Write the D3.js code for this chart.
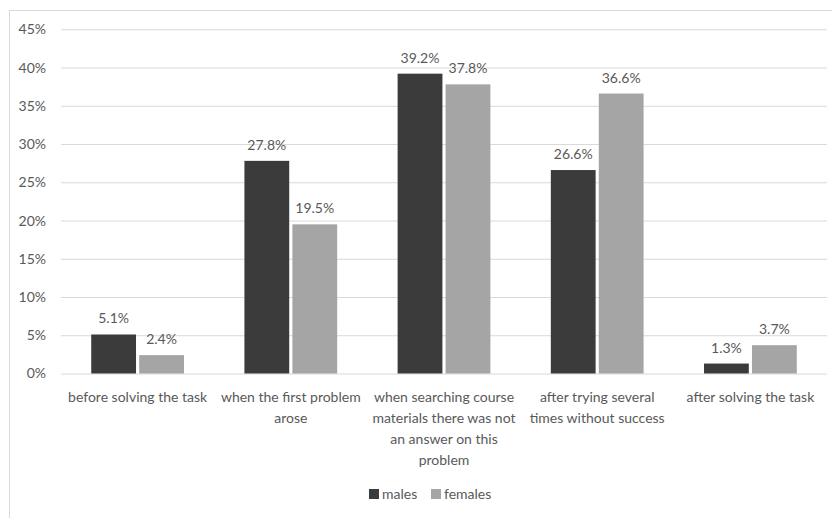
<!DOCTYPE html>
<html>
<head>
<meta charset="utf-8">
<script src="https://cdn.jsdelivr.net/npm/d3@7"></script>
<style>
  html, body { margin: 0; padding: 0; background: #fff; }
  svg { display: block; }
  text { font-family: Lato, "Open Sans", sans-serif; fill: #595959; }
</style>
</head>
<body>
<svg id="chart" width="832" height="518"></svg>
<script>
// Moment at which students asked for help, by gender (share of respondents, %)
const categories = [
  "before solving the task",
  "when the first problem\narose",
  "when searching course\nmaterials there was not\nan answer on this\nproblem",
  "after trying several\ntimes without success",
  "after solving the task"
];
const seriesNames = ["males", "females"];
const males = [5.1, 27.8, 39.2, 26.6, 1.3];
const females = [2.4, 19.5, 37.8, 36.6, 3.7];
const yTicks = [0, 5, 10, 15, 20, 25, 30, 35, 40, 45];
const colors = ["#3b3b3b", "#a5a5a5"];

const svg = d3.select("#chart");
const W = 832, H = 518;
const FS = 14;

// chart frame
svg.append("rect")
  .attr("x", 9.5).attr("y", 10.5)
  .attr("width", W).attr("height", H)
  .attr("fill", "none").attr("stroke", "#d9d9d9").attr("stroke-width", 1);

const plot = { left: 61, right: 827, top: 29.3, bottom: 373.5 };

const x0 = d3.scaleBand().domain(d3.range(categories.length))
  .range([plot.left, plot.right]).paddingInner(0).paddingOuter(0);
const x1 = d3.scaleBand().domain(seriesNames)
  .range([0, x0.bandwidth()]).paddingInner(0.066).paddingOuter(0.63);
const y = d3.scaleLinear().domain([0, 45]).range([plot.bottom, plot.top]);

// gridlines + y tick labels
const yAxis = d3.axisLeft(y).tickValues(yTicks)
  .tickSize(-(plot.right - plot.left)).tickPadding(15)
  .tickFormat(d => d + "%");
const gy = svg.append("g").attr("transform", `translate(${plot.left},0)`).call(yAxis);
gy.select(".domain").remove();
gy.selectAll(".tick line").attr("stroke", "#d9d9d9").attr("stroke-width", 1);
gy.selectAll(".tick text").attr("font-size", FS).attr("fill", "#595959")
  .style("font-family", "Lato, sans-serif");

// bars
const data = categories.map((c, i) => ({ i, values: [males[i], females[i]] }));
const groups = svg.append("g").selectAll("g").data(data).join("g")
  .attr("transform", d => `translate(${x0(d.i)},0)`);

groups.selectAll("rect").data(d => d.values.map((v, k) => ({ v, k })))
  .join("rect")
  .attr("x", d => x1(seriesNames[d.k]))
  .attr("width", x1.bandwidth())
  .attr("y", d => y(d.v))
  .attr("height", d => y(0) - y(d.v))
  .attr("fill", d => colors[d.k]);

// value labels
groups.selectAll("text.val").data(d => d.values.map((v, k) => ({ v, k })))
  .join("text").attr("class", "val")
  .attr("x", d => x1(seriesNames[d.k]) + x1.bandwidth() / 2)
  .attr("y", d => y(d.v) - 11)
  .attr("text-anchor", "middle")
  .attr("font-size", FS)
  .text(d => d.v.toFixed(1) + "%");

// category labels
const catG = svg.append("g");
categories.forEach((c, i) => {
  const t = catG.append("text")
    .attr("x", x0(i) + x0.bandwidth() / 2)
    .attr("y", 402)
    .attr("text-anchor", "middle")
    .attr("font-size", FS);
  c.split("\n").forEach((line, j) => {
    t.append("tspan").attr("x", x0(i) + x0.bandwidth() / 2)
      .attr("dy", j === 0 ? 0 : 21).text(line);
  });
});

// legend
const legend = svg.append("g");
const legendItems = [{ name: "males", x: 369 }, { name: "females", x: 431 }];
legendItems.forEach((it, k) => {
  legend.append("rect").attr("x", it.x).attr("y", 489)
    .attr("width", 10).attr("height", 10).attr("fill", colors[k]);
  legend.append("text").attr("x", it.x + 13).attr("y", 499)
    .attr("font-size", FS).text(it.name);
});
</script>
</body>
</html>
